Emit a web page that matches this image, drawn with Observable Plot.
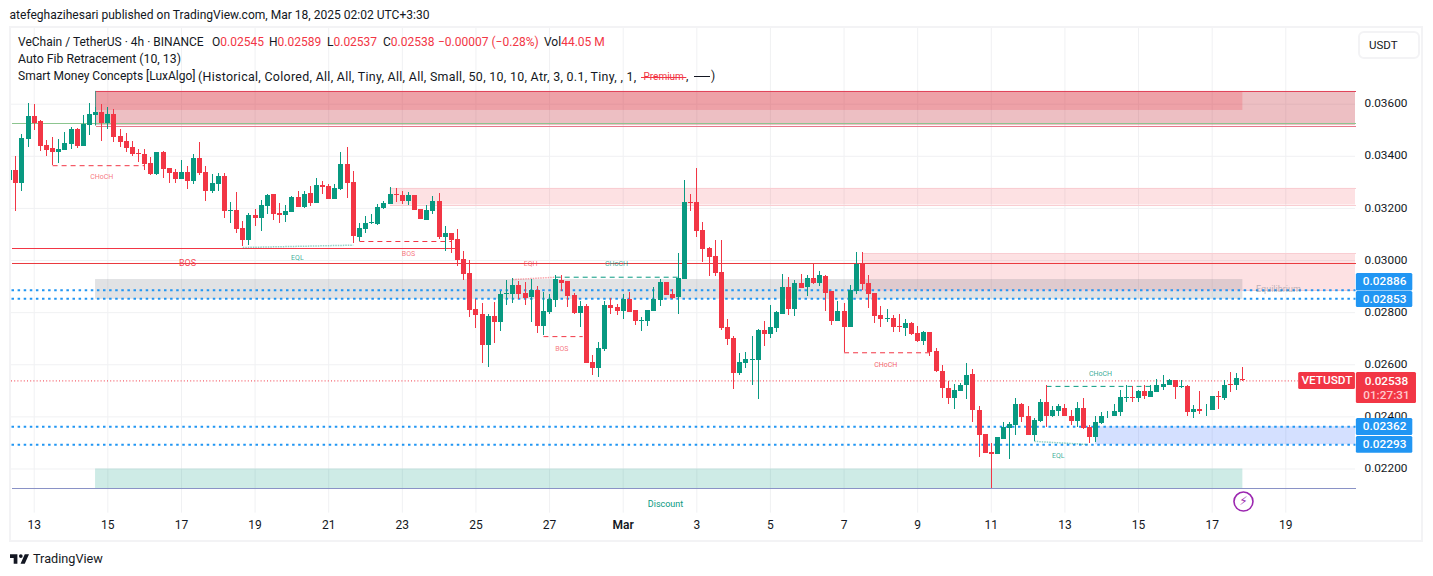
<!DOCTYPE html>
<html>
<head>
<meta charset="utf-8">
<script src="https://cdn.jsdelivr.net/npm/d3@7"></script>
<script src="https://cdn.jsdelivr.net/npm/@observablehq/plot@0.6"></script>
<style>
html,body{margin:0;padding:0;background:#fff;width:1433px;height:576px;overflow:hidden;font-family:Roboto,sans-serif;color:#131722}
#wrap{position:relative;width:1433px;height:576px}
#chart{position:absolute;left:0;top:0}
.abs{position:absolute;white-space:pre;font-size:12px;line-height:17px}
#frame{position:absolute;left:9px;top:26px;width:1414px;height:516px;border:2px solid #f3f3f5;box-sizing:border-box;pointer-events:none}
#unit{position:absolute;left:1358px;top:31px;width:58px;height:24px;border:2px solid #f3f3f5;border-radius:6px;font-size:11.5px;line-height:24px;text-indent:9px;background:#fff}
.r{color:#f23645}
#logo{position:absolute;left:10px;top:551px;display:flex;align-items:center;gap:4px;font-size:12.7px;line-height:15px}
</style>
</head>
<body>
<div id="wrap">
<div id="chart"></div>
<div id="frame"></div>
<div class="abs" style="left:9.5px;top:7px;font-size:12.05px">atefeghazihesari published on TradingView.com, Mar 18, 2025 02:02 UTC+3:30</div>
<div class="abs" style="left:18px;top:34px">VeChain / TetherUS · 4h · BINANCE</div>
<div class="abs" style="left:212px;top:34px">O<span class="r">0.02545</span></div>
<div class="abs" style="left:269px;top:34px">H<span class="r">0.02589</span></div>
<div class="abs" style="left:327px;top:34px">L<span class="r">0.02537</span></div>
<div class="abs" style="left:383px;top:34px">C<span class="r">0.02538</span></div>
<div class="abs r" style="left:438px;top:34px">−0.00007 (−0.28%)</div>
<div class="abs" style="left:544px;top:34px">Vol<span class="r">44.05 M</span></div>
<div class="abs" style="left:18px;top:51px;font-size:12.3px">Auto Fib Retracement (10, 13)</div>
<div class="abs" style="left:18px;top:68px">Smart Money Concepts [LuxAlgo]</div>
<div class="abs" style="left:198px;top:68px;font-size:12.4px;letter-spacing:.31px">(Historical, Colored, All, All, Tiny, All, All, Small, 50, 10, 10, Atr, 3, 0.1, Tiny, , 1,</div>
<div class="abs r" style="left:641px;top:68px;font-size:10px;text-decoration:line-through"> Premium </div>
<div class="abs" style="left:686px;top:68px">,</div>
<div style="position:absolute;left:694px;top:76px;width:16px;height:1px;background:#131722"></div>
<div class="abs" style="left:711px;top:68px">)</div>
<div id="unit">USDT</div>
<div id="logo"><svg width="19" height="10" viewBox="0 0 36 18"><path fill="#131722" d="M14 18H7V7H0V0h14v18zM28 18h-8l8-18h8l-8 18z"/><circle cx="20.5" cy="3.5" r="3.5" fill="#131722"/></svg><span>TradingView</span></div>
</div>
<script>
// Prices are in units of 0.00001 USDT, one entry per 4h bar.
const opens = [3308,3347,3295,3464,3553,3534,3441,3430,3414,3422,
3445,3503,3438,3518,3557,3568,3526,3560,3476,3457,
3434,3411,3407,3372,3330,3414,3353,3338,3311,3338,
3303,3391,3338,3265,3291,3322,3188,3192,3122,3076,
3172,3161,3207,3253,3180,3172,3184,3242,3203,3257,
3218,3288,3284,3234,3272,3368,3299,3088,3118,3142,
3138,3199,3215,3253,3249,3226,3249,3195,3153,3188,
3226,3088,3103,3080,3003,2949,2811,2792,2673,2784,
2761,2869,2869,2903,2873,2857,2884,2746,2799,2846,
2922,2919,2865,2796,2823,2607,2584,2657,2826,2819,
2803,2849,2807,2765,2765,2803,2846,2915,2869,2857,
2926,3222,3222,3115,3045,3015,2953,2742,2700,2565,
2603,2615,2615,2730,2715,2738,2792,2896,2811,2911,
2896,2930,2911,2938,2880,2765,2803,2742,2880,2984,
2911,2873,2788,2773,2776,2746,2738,2757,2719,2688,
2723,2650,2576,2507,2469,2499,2519,2561,2426,2334,
2265,2257,2315,2357,2365,2446,2400,2330,2384,2457,
2400,2419,2434,2403,2384,2434,2361,2319,2376,2400,
2403,2415,2472,2476,2469,2499,2476,2492,2511,2522,
2538,2511,2515,2415,2430,2423,2423,2480,2472,2526,
2519,2545];
const closes = [3347,3295,3468,3553,3527,3438,3422,3414,3426,3449,
3503,3438,3522,3560,3568,3526,3560,3472,3453,3430,
3407,3407,3367,3330,3414,3349,3334,3311,3338,3303,
3391,3334,3265,3295,3322,3188,3192,3119,3076,3172,
3161,3211,3249,3176,3172,3188,3242,3203,3253,3218,
3288,3280,3234,3276,3368,3295,3092,3122,3142,3145,
3203,3218,3253,3249,3226,3249,3191,3157,3191,3226,
3088,3103,3076,2999,2946,2807,2788,2673,2784,2761,
2869,2873,2903,2869,2853,2884,2746,2803,2849,2926,
2911,2861,2796,2823,2604,2584,2661,2826,2815,2803,
2849,2799,2765,2769,2807,2849,2915,2865,2853,2930,
3222,3218,3111,3042,3011,2949,2738,2696,2565,2607,
2619,2619,2730,2715,2742,2799,2896,2811,2911,2892,
2930,2911,2942,2873,2765,2803,2742,2884,2984,2907,
2869,2784,2773,2776,2742,2742,2757,2715,2688,2723,
2646,2573,2507,2469,2503,2522,2557,2423,2330,2261,
2257,2319,2361,2369,2446,2396,2330,2388,2457,2400,
2423,2438,2400,2384,2434,2357,2319,2380,2403,2403,
2419,2476,2476,2469,2499,2480,2496,2519,2526,2538,
2511,2515,2415,2430,2419,2426,2480,2476,2522,2522,
2549,2538];
const highs = [3350,3398,3484,3603,3599,3537,3461,3472,3464,3491,
3511,3507,3557,3603,3587,3599,3587,3580,3503,3487,
3457,3426,3426,3395,3414,3418,3353,3349,3384,3361,
3407,3453,3361,3330,3334,3334,3222,3261,3149,3180,
3195,3230,3253,3253,3218,3211,3245,3265,3265,3284,
3315,3303,3291,3291,3414,3434,3341,3142,3168,3176,
3215,3226,3280,3276,3264,3261,3249,3195,3211,3245,
3257,3130,3103,3118,3034,2999,2849,2834,2792,2838,
2880,2922,2930,2919,2915,2926,2899,2876,2869,2942,
2942,2919,2873,2842,2830,2634,2684,2842,2853,2830,
2869,2876,2807,2780,2807,2896,2926,2915,2888,3026,
3307,3253,3353,3145,3049,3076,3076,2773,2707,2642,
2646,2707,2734,2765,2826,2803,2946,2934,2922,2946,
2942,2984,2957,2942,2880,2842,2834,2903,3030,3030,
2942,2873,2823,2811,2788,2792,2773,2761,2746,2726,
2723,2661,2596,2534,2526,2530,2603,2580,2438,2334,
2296,2319,2380,2380,2469,2453,2438,2392,2465,2519,
2438,2446,2449,2423,2457,2472,2365,2403,2415,2419,
2446,2503,2519,2515,2503,2519,2519,2542,2557,2542,
2538,2538,2519,2442,2499,2449,2480,2496,2538,2569,
2565,2589];
const lows = [3305,3189,3266,3435,3500,3420,3399,3366,3372,3422,
3426,3430,3438,3480,3518,3457,3503,3453,3434,3414,
3399,3376,3345,3326,3326,3315,3295,3295,3311,3272,
3291,3326,3226,3259,3265,3161,3142,3103,3053,3057,
3130,3111,3176,3153,3142,3145,3184,3203,3199,3207,
3218,3253,3234,3234,3268,3238,3065,3072,3103,3138,
3134,3195,3215,3222,3215,3211,3191,3157,3153,3176,
3080,3034,3026,2976,2922,2780,2738,2604,2588,2680,
2726,2826,2834,2849,2826,2761,2719,2711,2792,2819,
2880,2819,2792,2742,2604,2557,2550,2650,2792,2788,
2773,2799,2750,2726,2746,2803,2823,2865,2849,2792,
2926,3188,3088,2992,2938,2938,2730,2673,2504,2557,
2584,2519,2465,2669,2700,2723,2792,2788,2784,2892,
2861,2907,2899,2803,2750,2765,2646,2742,2869,2884,
2815,2757,2742,2761,2723,2723,2707,2711,2684,2673,
2630,2569,2469,2446,2430,2499,2465,2380,2246,2261,
2127,2257,2315,2238,2330,2380,2330,2307,2380,2361,
2396,2403,2400,2365,2361,2350,2296,2300,2369,2392,
2403,2400,2457,2457,2457,2465,2476,2492,2503,2522,
2465,2507,2403,2392,2411,2400,2423,2430,2461,2492,
2503,2537];

const priceTicks = [3600,3400,3200,3000,2800,2600,2400,2200];
const dateLabels = ["13","15","17","19","21","23","25","27","Mar","3","5","7","9","11","13","15","17","19"];

// Shaded zones: first bar, last bar, top price, bottom price, fill, opacity
const zones = [
  [14,219.36,3649,3518,"#c22a38",0.3],
  [14,201,3649,3576,"#f23645",0.22],
  [62,219.36,3277,3213,"#f23645",0.15],
  [139,219.36,3027,2885,"#f23645",0.15],
  [14,201,2927,2851,"#787b86",0.22],
  [177,219.36,2362,2293,"#2962ff",0.2],
  [14,201,2200,2124,"#089981",0.2]
];
// Level and structure lines: first bar, last bar, start price, end price, colour, width, dash, opacity
const RED="#f23645", GREEN="#089981", BLUE="#2196f3";
const lines = [
  [14,219.36,3649,3649,"#e0455a",1,null,1],
  [14,219.36,3516,3516,"#e8788c",1,null,1],
  [0.3,219.36,3525,3525,"#8cc58f",1,null,1],
  [62,219.36,3277,3277,"#f9cdd2",1,null,1],
  [62,219.36,3213,3213,"#f9cdd2",1,null,1],
  [139,219.36,3027,3027,"#f9cdd2",1,null,1],
  [139,219.36,2885,2885,"#f9cdd2",1,null,1],
  [0.3,73,3045,3045,RED,1,null,1],
  [0.3,219.36,2988,2988,"#ea3a3f",1,null,1],
  [0.3,219.36,2886,2886,BLUE,2,"2.5 3.6",1],
  [0.3,219.36,2853,2853,BLUE,2,"2.5 3.6",1],
  [0.3,219.36,2362,2362,BLUE,2,"2.5 3.6",1],
  [0.3,219.36,2293,2293,BLUE,2,"2.5 3.6",1],
  [0.3,219.36,2124,2124,"#8a92c6",1,null,1],
  [7,22,3364,3364,RED,1,"5 4",1],
  [38,56,3050,3059,GREEN,1.5,"1.5 1",0.45],
  [57,72,3073,3073,RED,1,"5 4",1],
  [82,89,2927,2936,RED,1.5,"1.5 1",0.45],
  [89,109.3,2936,2936,GREEN,1,"5 4",1],
  [87,93.4,2708,2708,RED,1,"5 4",1],
  [136,150,2646,2646,RED,1,"5 4",1],
  [169,186,2517,2517,GREEN,1,"5 4",1],
  [167,175.7,2306,2294,GREEN,1.5,"1.5 1",0.45]
];
// Chart annotations: bar, price, text, colour, size, opacity
const notes = [
  [15,3323,"CHoCH",RED,7,0.7],
  [29,2989,"BOS",RED,9,0.9],
  [46.9,3012,"EQL",GREEN,7,0.8],
  [65,3027,"BOS",RED,7,0.7],
  [84.9,2989,"EQH",RED,7,0.7],
  [98.9,2989,"CHoCH",GREEN,7,0.8],
  [90,2662,"BOS",RED,7,0.7],
  [142.8,2601,"CHoCH",RED,7,0.8],
  [177.8,2567,"CHoCH",GREEN,7,0.85],
  [170.9,2252,"EQL",GREEN,7,0.8],
  [206.8,2889,"Equilibrium","#787b86",9,0.5],
  [106.9,2064,"Discount",GREEN,9,1]
];
// Price tags on the axis: first bar, last bar, top, bottom, fill
const tags = [
  [219.5,228.7,2950,2883,BLUE],
  [219.5,228.7,2881,2820,BLUE],
  [219.5,228.7,2394,2329,BLUE],
  [219.5,228.7,2325,2260,BLUE],
  [210.1,219.35,2570,2505,RED],
  [219.5,229.3,2570,2451,RED]
];
const tagTexts = [
  [224.1,2920,"0.02886","#fff"],
  [224.1,2851,"0.02853","#fff"],
  [224.1,2364,"0.02362","#fff"],
  [224.1,2295,"0.02293","#fff"],
  [214.7,2540,"VETUSDT","#fff"],
  [224.4,2536,"0.02538","#fff"],
  [224.4,2482,"01:27:31","#ffc9ce"]
];

const T0 = Date.UTC(2025,1,12,8);
const bar = i => new Date(T0 + i*4*3600e3);
const px = v => v/1e5;
const candles = opens.map((o,i)=>({t:bar(i),o:px(o),h:px(highs[i]),l:px(lows[i]),c:px(closes[i]),col:closes[i]>=o?GREEN:RED}));
const tickDates = dateLabels.map((_,k)=>new Date(Date.UTC(2025,1,13+2*k)));
const tickName = new Map(tickDates.map((d,k)=>[+d,dateLabels[k]]));
const plainTicks = tickDates.filter(d=>tickName.get(+d)!=="Mar");
const boldTicks = tickDates.filter(d=>tickName.get(+d)==="Mar");
const fontFamily = "Roboto, sans-serif";

const chart = Plot.plot({
  width:1433, height:576,
  marginLeft:11, marginRight:78, marginTop:28, marginBottom:61,
  style:{background:"transparent",fontFamily,color:"#131722"},
  x:{type:"utc",domain:[bar(0.3),bar(219.36)],axis:null},
  y:{domain:[0.020215,0.038905],axis:null},
  marks:[
    Plot.ruleX(tickDates,{x:d=>d,y1:0.020215+0.00009,y2:0.038905,stroke:"#f0f1f3",strokeWidth:1}),
    Plot.ruleY(priceTicks,{y:d=>px(d),stroke:"#f0f1f3",strokeWidth:1}),
    ...zones.map(z=>Plot.rect([z],{x1:d=>bar(d[0]),x2:d=>bar(d[1]),y1:d=>px(d[2]),y2:d=>px(d[3]),fill:z[4],fillOpacity:z[5]})),
    Plot.ruleX([bar(14)],{y1:px(3649),y2:px(3516),stroke:"#4b8f86",strokeWidth:1}),
    ...lines.map(l=>Plot.link([l],{x1:d=>bar(d[0]),x2:d=>bar(d[1]),y1:d=>px(d[2]),y2:d=>px(d[3]),stroke:l[4],strokeWidth:l[5],strokeDasharray:l[6]||undefined,strokeOpacity:l[7],shapeRendering:(l[6]||l[2]!==l[3])?undefined:"crispEdges"})),
    Plot.ruleY([px(2538)],{x1:bar(0.3),x2:bar(210.1),stroke:RED,strokeWidth:1,strokeDasharray:"1 2.2"}),
    Plot.ruleX(candles,{x:"t",y1:"l",y2:"h",stroke:"col",strokeWidth:1,clip:true,shapeRendering:"crispEdges"}),
    Plot.ruleX(candles,{x:"t",y1:"o",y2:"c",stroke:"col",strokeWidth:5,clip:true,shapeRendering:"crispEdges"}),
    ...notes.map(n=>Plot.text([n],{x:d=>bar(d[0]),y:d=>px(d[1]),text:d=>d[2],fill:n[3],fontSize:n[4],fillOpacity:n[5]})),
    Plot.axisY({anchor:"right",ticks:priceTicks.map(px),tickSize:0,tickPadding:9,tickFormat:d3.format(".5f"),fontSize:11.8,textAnchor:"start",label:null,fill:"#131722",dy:-0.7}),
    Plot.axisX({anchor:"bottom",ticks:plainTicks,tickSize:0,tickPadding:5,tickFormat:d=>tickName.get(+d),fontSize:12,label:null,fill:"#131722"}),
    Plot.axisX({anchor:"bottom",ticks:boldTicks,tickSize:0,tickPadding:5,tickFormat:d=>tickName.get(+d),fontSize:12,fontWeight:600,label:null,fill:"#131722"}),
    Plot.rect(tags,{x1:d=>bar(d[0]),x2:d=>bar(d[1]),y1:d=>px(d[2]),y2:d=>px(d[3]),fill:d=>d[4],rx:1.5}),
    Plot.text(tagTexts,{x:d=>bar(d[0]),y:d=>px(d[1]),text:d=>d[2],fill:d=>d[3],fontSize:11.8,fontWeight:500}),
    Plot.dot([[201.1,2075]],{x:d=>bar(d[0]),y:d=>px(d[1]),r:9.5,stroke:"#9c27b0",strokeWidth:1.6,fill:"#fff"}),
    Plot.text([[201.1,2075]],{x:d=>bar(d[0]),y:d=>px(d[1]),text:()=>"⚡",fill:"#9c27b0",fontSize:12,fontFamily:"DejaVu Sans"})
  ]
});
document.getElementById("chart").appendChild(chart);
</script>
</body>
</html>
